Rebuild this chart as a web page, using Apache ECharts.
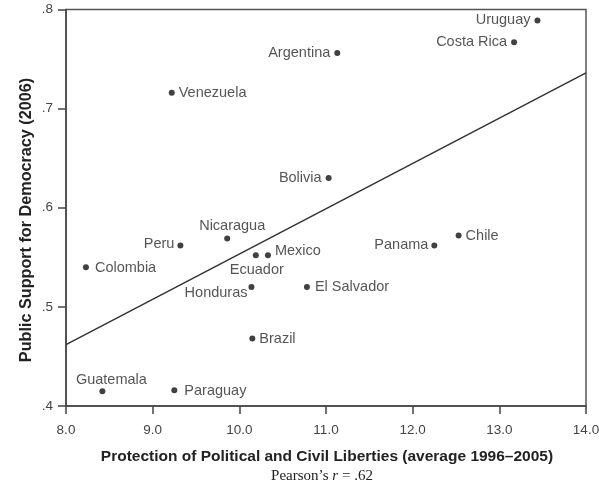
<!DOCTYPE html>
<html>
<head>
<meta charset="utf-8">
<script src="https://cdn.jsdelivr.net/npm/echarts@6/dist/echarts.min.js"></script>
<style>
html,body{margin:0;padding:0;background:#fff;overflow:hidden;}
#chart{width:599px;height:491px;}
</style>
</head>
<body>
<div id="chart"></div>
<script>
// Data
const countries = ["Uruguay","Costa Rica","Argentina","Venezuela","Bolivia","Nicaragua","Peru","Colombia","Ecuador","Mexico","Honduras","El Salvador","Panama","Chile","Brazil","Guatemala","Paraguay"];
const liberties = [13.44,13.17,11.13,9.22,11.03,9.86,9.32,8.23,10.19,10.33,10.14,10.78,12.25,12.53,10.15,8.42,9.25];
const support   = [0.789,0.767,0.756,0.716,0.630,0.569,0.562,0.540,0.552,0.552,0.520,0.520,0.562,0.572,0.468,0.415,0.416];
const trendX = [8.0, 14.0];
const trendY = [0.462, 0.736];
const xTicks = ["8.0","9.0","10.0","11.0","12.0","13.0","14.0"];
const yTicks = [".4",".5",".6",".7",".8"];
const xTitle = "Protection of Political and Civil Liberties (average 1996–2005)";
const yTitle = "Public Support for Democracy (2006)";

// label placement (style only): [position, dx, dy]
const labelPos = {
  "Uruguay":["left",0,0], "Costa Rica":["left",0,0], "Argentina":["left",0,0],
  "Venezuela":["right",0,0], "Bolivia":["left",0,0], "Nicaragua":["top",5,2],
  "Peru":["left",1,-1], "Colombia":["right",2,1], "Ecuador":["bottom",1,0],
  "Mexico":["right",0,-4], "Honduras":["left",3,6], "El Salvador":["right",1,0],
  "Panama":["left",1,0], "Chile":["right",0,0], "Brazil":["right",0,0],
  "Guatemala":["top",9,3], "Paraguay":["right",3,1]
};

const pts = countries.map((c,i)=>({
  name:c, value:[liberties[i], support[i]],
  label:{position:labelPos[c][0]}
}));

const chart = echarts.init(document.getElementById('chart'));
const FONT = '"Liberation Sans", Arial, sans-serif';
const SERIF = '"Liberation Serif", "Times New Roman", serif';
chart.setOption({
  animation:false,
  grid:{left:66, right:13, top:9.5, bottom:85, outerBoundsMode:'none', containLabel:false,
    show:true, borderColor:'#555', borderWidth:1.5, backgroundColor:'transparent'},
  xAxis:{
    type:'value', min:8, max:14, interval:1,
    axisLine:{show:true, lineStyle:{color:'#444', width:1.5}},
    axisTick:{show:true, length:8, inside:false, lineStyle:{color:'#444', width:1.5}},
    splitLine:{show:false},
    axisLabel:{color:'#444', fontFamily:FONT, fontSize:13.5, margin:17,
      formatter:v=>xTicks[Math.round(v-8)]}
  },
  yAxis:{
    type:'value', min:0.4, max:0.8, interval:0.1,
    axisLine:{show:true, lineStyle:{color:'#444', width:1.5}},
    axisTick:{show:true, length:8, lineStyle:{color:'#444', width:1.5}},
    splitLine:{show:false},
    axisLabel:{color:'#444', fontFamily:FONT, fontSize:13.5, margin:13,
      formatter:v=>yTicks[Math.round((v-0.4)*10)]}
  },
  graphic:[
    {
      type:'text', x:327, y:457,
      style:{text:xTitle, fontFamily:FONT, fontSize:15.5, fontWeight:'bold', fill:'#222',
        align:'center', verticalAlign:'middle'}
    },
    {
      type:'text', x:27, y:220, rotation:Math.PI/2,
      style:{text:yTitle, fontFamily:FONT, fontSize:16.2, fontWeight:'bold', fill:'#222',
        align:'center', verticalAlign:'middle'}
    },
    {
      type:'text', x:322, y:476,
      style:{
        text:"{a|Pearson’s }{b|r}{a| = .62}",
        align:'center', verticalAlign:'middle',
        rich:{
          a:{fontFamily:SERIF, fontSize:15, fill:'#222'},
          b:{fontFamily:SERIF, fontSize:15, fontStyle:'italic', fill:'#222'}
        }
      }
    }
  ],
  series:[
    {
      type:'line', data:trendX.map((x,i)=>[x,trendY[i]]),
      symbol:'none', lineStyle:{color:'#333', width:1.5}, silent:true, z:1
    },
    {
      type:'scatter', data:pts, symbolSize:6,
      itemStyle:{color:'#111'},
      label:{show:true, formatter:'{b}', color:'#2a2a2a', fontFamily:FONT, fontSize:14.5, distance:4},
      labelLayout:function(p){
        const lp = labelPos[countries[p.dataIndex]];
        return {dx:lp[1], dy:lp[2], hideOverlap:false};
      },
      z:2
    }
  ]
});
</script>
</body>
</html>
